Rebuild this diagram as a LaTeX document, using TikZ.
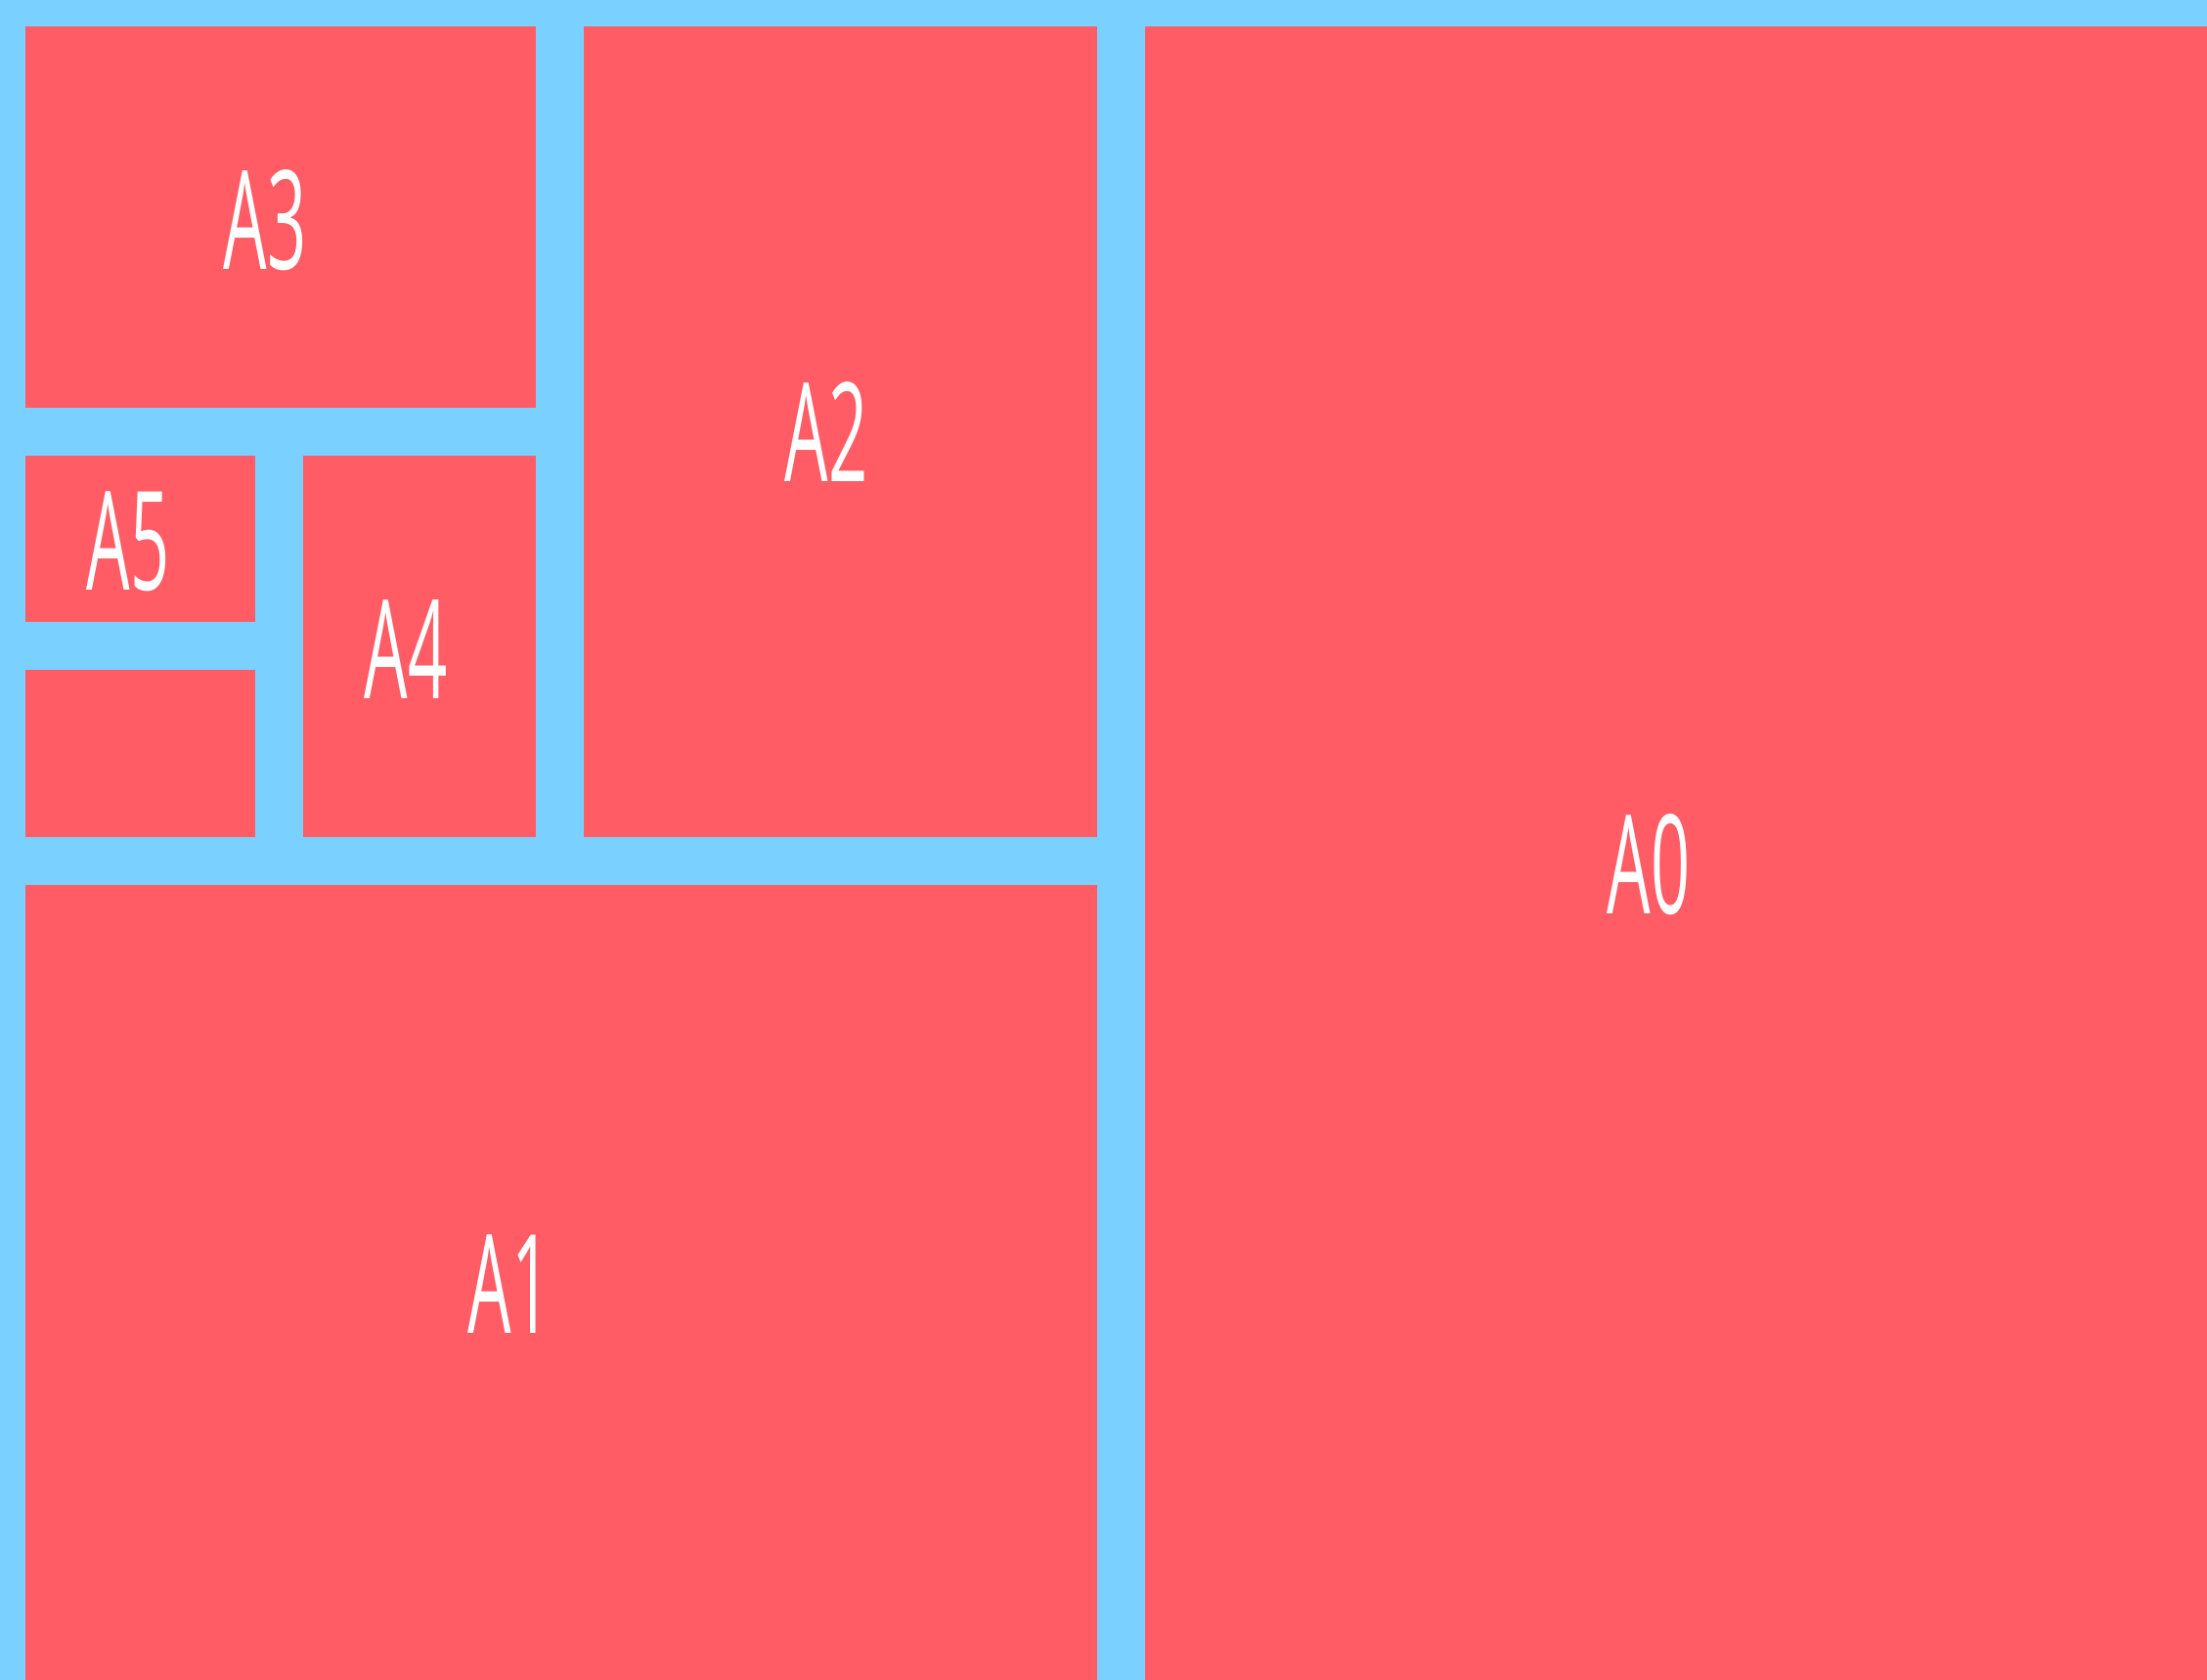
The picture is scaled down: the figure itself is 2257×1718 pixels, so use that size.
\documentclass[tikz,border=0pt]{standalone}
\usepackage{fontspec}
\newfontfamily\sheetfont{Open Sans}[FakeStretch=0.5]
\definecolor{gapblue}{RGB}{122,208,255}
\definecolor{sheetred}{RGB}{255,92,102}
\begin{document}
\begin{tikzpicture}[
			x=0.01cm, y=-0.01cm,
			sheet/.style={fill=sheetred},
			size/.style={text=white, inner sep=0pt, font=\sheetfont\fontsize{40}{40}\selectfont}
			]
			
			% Background
			\fill[gapblue] (0,0) rectangle (2257,1718);
			\useasboundingbox (0,0) rectangle (2257,1718);
			
			% Sheets
			\fill[sheet] (26,27) rectangle (548,417);    % A3
			\fill[sheet] (597,27) rectangle (1122,856);  % A2
			\fill[sheet] (1171,27) rectangle (2257,1718);% A0
			\fill[sheet] (26,466) rectangle (261,636);   % A5
			\fill[sheet] (26,685) rectangle (261,856);   % A6
			\fill[sheet] (310,466) rectangle (548,856);  % A4
			\fill[sheet] (26,905) rectangle (1122,1718); % A1
			
			% Labels
			\node[size] (a3) at (271,225) {A3};
			\node[size] (a2) at (845,442) {A2};
			\node[size] (a5) at (131,554) {A5};
			\node[size] (a4) at (415,664) {A4};
			\node[size] (a0) at (1686,884) {A0};
			\node[size] (a1) at (521,1313) {A1};
			
		\end{tikzpicture}
\end{document}
